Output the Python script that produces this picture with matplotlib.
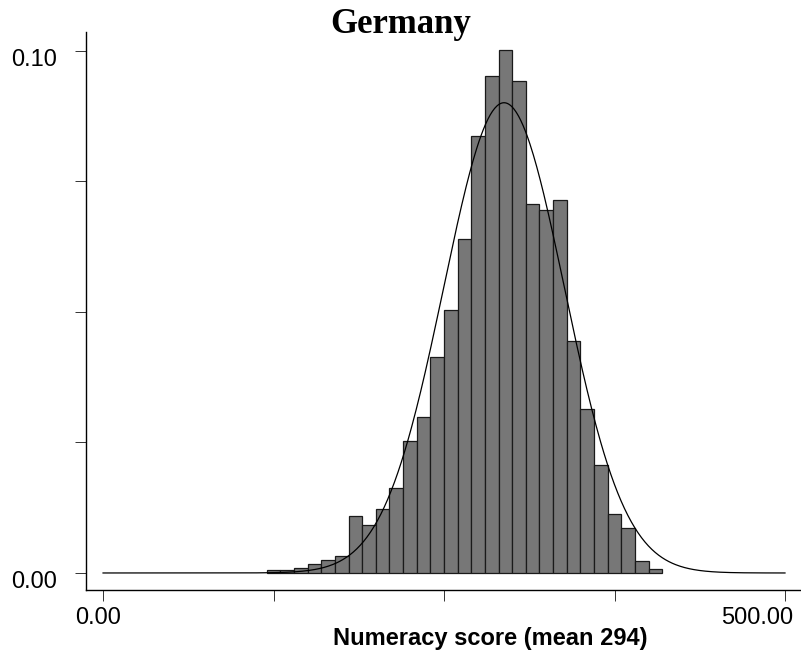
import numpy as np
import matplotlib.pyplot as plt
from matplotlib.transforms import ScaledTranslation

# ── data: proportion of respondents per 10-point score bin ──
bin_starts = [120, 130, 140, 150, 160, 170, 180, 190, 200, 210,
              220, 230, 240, 250, 260, 270, 280, 290, 300, 310,
              320, 330, 340, 350, 360, 370, 380, 390, 400]
proportions = [0.0005, 0.0005, 0.0010, 0.0017, 0.0025, 0.0033, 0.0109, 0.0092, 0.0122, 0.0163,
               0.0253, 0.0298, 0.0413, 0.0504, 0.0640, 0.0837, 0.0952, 0.1002, 0.0943, 0.0706,
               0.0695, 0.0715, 0.0444, 0.0314, 0.0207, 0.0112, 0.0087, 0.0022, 0.0007]
bin_width = 10
score_mean = 294
score_sd = 44.3

# normal curve fitted to the scores, scaled to bin width
xs = np.linspace(0, 500, 600)
curve = bin_width / (score_sd * np.sqrt(2 * np.pi)) * np.exp(-0.5 * ((xs - score_mean) / score_sd) ** 2)

W, H = 801, 659
fig = plt.figure(figsize=(W / 100, H / 100), dpi=100)
ax = fig.add_axes([86 / W, (H - 590) / H, (800 - 86) / W, (590 - 32) / H])

ax.bar(bin_starts, proportions, width=bin_width, align="edge",
       color="#777777", edgecolor="#1a1a1a", linewidth=0.9)
ax.plot(xs, curve, color="black", linewidth=0.9)

ax.set_xlim(-12.5, 511)
ax.set_ylim(-0.00326, 0.1036)

for s in ["top", "right"]:
    ax.spines[s].set_visible(False)
for s in ["left", "bottom"]:
    ax.spines[s].set_linewidth(1.0)

ax.set_xticks([0, 125, 250, 375, 500])
ax.set_xticklabels(["0.00", "", "", "", "500.00"])
ax.set_yticks([0, 0.025, 0.05, 0.075, 0.10])
ax.set_yticklabels(["0.00", "", "", "", "0.10"])
ax.tick_params(axis="both", length=8, width=0.7, color="#333333",
               labelsize=17, labelcolor="black")
ax.tick_params(axis="y", pad=13)
ax.tick_params(axis="x", pad=4)
for lab in ax.get_yticklabels():
    lab.set_fontfamily("Liberation Sans")
    lab.set_transform(lab.get_transform() + ScaledTranslation(0, -7 / 100, fig.dpi_scale_trans))
xl = ax.get_xticklabels()
for lab in xl:
    lab.set_fontfamily("Liberation Sans")
xl[0].set_transform(xl[0].get_transform() + ScaledTranslation(-4.5 / 100, 0, fig.dpi_scale_trans))
xl[-1].set_transform(xl[-1].get_transform() + ScaledTranslation(-28 / 100, 0, fig.dpi_scale_trans))

fig.text(0.5, 1 - 33 / H, "Germany", ha="center", va="baseline",
         fontsize=25, fontweight="bold", family="Liberation Serif")
fig.text(490 / W, 1 - 645 / H, "Numeracy score (mean 294)", ha="center", va="baseline",
         fontsize=17, fontweight="bold", family="Liberation Sans")

fig.savefig("out.png", dpi=100)
